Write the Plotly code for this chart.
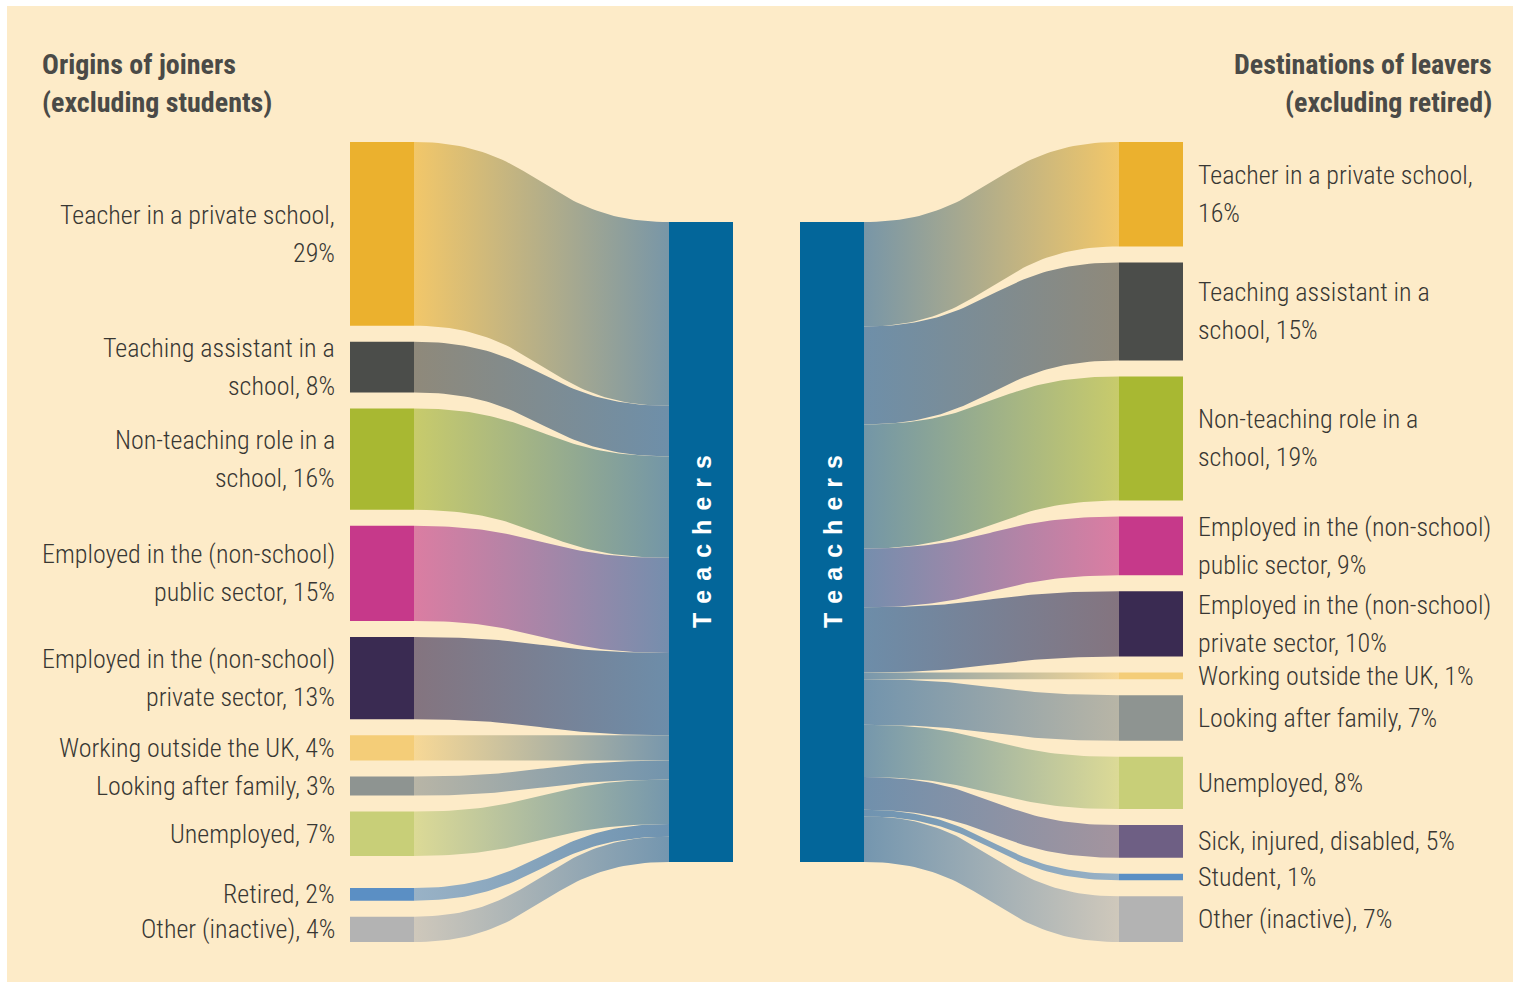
import plotly.graph_objects as go
import numpy as np

# ---------------- data ----------------
left_labels = [
    "Teacher in a private school,<br>29%",
    "Teaching assistant in a<br>school, 8%",
    "Non-teaching role in a<br>school, 16%",
    "Employed in the (non-school)<br>public sector, 15%",
    "Employed in the (non-school)<br>private sector, 13%",
    "Working outside the UK, 4%",
    "Looking after family, 3%",
    "Unemployed, 7%",
    "Retired, 2%",
    "Other (inactive), 4%",
]
left_values = [29, 8, 16, 15, 13, 4, 3, 7, 2, 4]
left_colors = ["#ebb12e", "#4b4d4a", "#a8b832", "#c6398a", "#3a2b52",
               "#f4cd78", "#8e9491", "#c8cf78", "#5b8fc4", "#b3b3b3"]

right_labels = [
    "Teacher in a private school,<br>16%",
    "Teaching assistant in a<br>school, 15%",
    "Non-teaching role in a<br>school, 19%",
    "Employed in the (non-school)<br>public sector, 9%",
    "Employed in the (non-school)<br>private sector, 10%",
    "Working outside the UK, 1%",
    "Looking after family, 7%",
    "Unemployed, 8%",
    "Sick, injured, disabled, 5%",
    "Student, 1%",
    "Other (inactive), 7%",
]
right_values = [16, 15, 19, 9, 10, 1, 7, 8, 5, 1, 7]
right_colors = ["#ebb12e", "#4b4d4a", "#a8b832", "#c6398a", "#3a2b52",
                "#f4cd78", "#8e9491", "#c8cf78", "#6e5f84", "#5b8fc4", "#b3b3b3"]

hub_label = "Teachers"
left_title = "Origins of joiners<br>(excluding students)"
right_title = "Destinations of leavers<br>(excluding retired)"

# ---------------- style / layout constants ----------------
W, H = 1520, 984
CREAM = (253, 235, 200)
HUB_COLOR = "#03669a"
FLOW_HUB = (106, 144, 174)
NODE_TOP = 142
HUB_TOP, HUB_BOTTOM = 222, 862
NODE_W = 64
L_NODE_X, L_HUB_X, R_HUB_X, R_NODE_X = 350, 669, 800, 1119
GAP = 16
LEFT_EXTRA_GAP = {8: 16}
RIGHT_EXTRA_GAP = {}
LABEL_FONT = "Liberation Sans Narrow, Roboto Condensed, DejaVu Sans Condensed, sans-serif"
TEXT_COLOR = "#383733"
LABEL_SIZE = 26
LINE_STEP = 38


def hex2rgb(h):
    h = h.lstrip("#")
    return tuple(int(h[i:i + 2], 16) for i in (0, 2, 4))


def mix(a, b, t):
    return tuple(a[i] * (1 - t) + b[i] * t for i in range(3))


def css(c):
    return "rgb(%d,%d,%d)" % tuple(int(round(v)) for v in c)


def layout_nodes(values, extra):
    scale = (HUB_BOTTOM - HUB_TOP) / sum(values)
    nodes, hub = [], []
    y = NODE_TOP
    hy = HUB_TOP
    for i, v in enumerate(values):
        y += extra.get(i, 0)
        h = v * scale
        nodes.append((y, y + h))
        hub.append((hy, hy + h))
        y += h + GAP
        hy += h
    return nodes, hub


def bezier(x0, y0, x1, y1, n=60):
    t = np.linspace(0, 1, n)
    xm = (x0 + x1) / 2
    xs = (1 - t) ** 3 * x0 + 3 * (1 - t) ** 2 * t * xm + 3 * (1 - t) * t ** 2 * xm + t ** 3 * x1
    ys = (1 - t) ** 3 * y0 + 3 * (1 - t) ** 2 * t * y0 + 3 * (1 - t) * t ** 2 * y1 + t ** 3 * y1
    return xs, ys


def ribbon(x0, a, x1, b, c0, c1):
    xt, yt = bezier(x0, a[0], x1, b[0])
    xb, yb = bezier(x0, a[1], x1, b[1])
    xs = np.concatenate([xt, xb[::-1], [xt[0]]])
    ys = np.concatenate([yt, yb[::-1], [yt[0]]])
    lo, hi = min(x0, x1), max(x0, x1)
    cs = [[0, css(c0)], [1, css(c1)]] if x0 < x1 else [[0, css(c1)], [1, css(c0)]]
    return go.Scatter(x=xs, y=ys, mode="lines", line=dict(width=0), fill="toself",
                      fillgradient=dict(type="horizontal", colorscale=cs, start=lo, stop=hi),
                      hoverinfo="skip", showlegend=False)


def rect(x0, x1, y0, y1, color):
    return go.Scatter(x=[x0, x1, x1, x0, x0], y=[y0, y0, y1, y1, y0], mode="lines",
                      line=dict(width=0), fill="toself", fillcolor=color,
                      hoverinfo="skip", showlegend=False)


def text_lines(text, x, yc, xanchor, font):
    lines = text.split("<br>")
    n = len(lines)
    out = []
    for k, ln in enumerate(lines):
        out.append(dict(x=x, y=yc + (k - (n - 1) / 2) * LINE_STEP, text=ln, xanchor=xanchor,
                        yanchor="middle", align=xanchor, showarrow=False, font=font))
    return out


fig = go.Figure()
annotations = []
label_font = dict(family=LABEL_FONT, size=LABEL_SIZE, color=TEXT_COLOR, weight=300)

# left side
lnodes, lhub = layout_nodes(left_values, LEFT_EXTRA_GAP)
for i, (lab, col) in enumerate(zip(left_labels, left_colors)):
    rgb = hex2rgb(col)
    c0 = mix(rgb, CREAM, 0.38)
    c1 = mix(FLOW_HUB, c0, 0.10)
    fig.add_trace(ribbon(L_NODE_X + NODE_W, lnodes[i], L_HUB_X, lhub[i], c0, c1))
for i, (lab, col) in enumerate(zip(left_labels, left_colors)):
    y0, y1 = lnodes[i]
    fig.add_trace(rect(L_NODE_X, L_NODE_X + NODE_W, y0, y1, col))
    annotations += text_lines(lab, L_NODE_X - 13, (y0 + y1) / 2, "right", label_font)

# right side
rnodes, rhub = layout_nodes(right_values, RIGHT_EXTRA_GAP)
for i, (lab, col) in enumerate(zip(right_labels, right_colors)):
    rgb = hex2rgb(col)
    c0 = mix(rgb, CREAM, 0.38)
    c1 = mix(FLOW_HUB, c0, 0.10)
    fig.add_trace(ribbon(R_NODE_X, rnodes[i], R_HUB_X + NODE_W, rhub[i], c0, c1))
for i, (lab, col) in enumerate(zip(right_labels, right_colors)):
    y0, y1 = rnodes[i]
    fig.add_trace(rect(R_NODE_X, R_NODE_X + NODE_W, y0, y1, col))
    annotations += text_lines(lab, R_NODE_X + NODE_W + 13, (y0 + y1) / 2, "left", label_font)

# hubs
spaced = " \u200a".join(hub_label)
for hx in (L_HUB_X, R_HUB_X):
    fig.add_trace(rect(hx, hx + NODE_W, HUB_TOP, HUB_BOTTOM, HUB_COLOR))
    annotations.append(dict(x=hx + NODE_W / 2 + 1, y=(HUB_TOP + HUB_BOTTOM) / 2, text=spaced,
                            textangle=-90, showarrow=False, xanchor="center", yanchor="middle",
                            font=dict(family="Liberation Sans, Arial, sans-serif", size=25,
                                      color="white", weight="bold")))

# titles
title_font = dict(family=LABEL_FONT, size=28, color="#4a4a47", weight="bold")
annotations += text_lines(left_title, 40, 83, "left", title_font)
annotations += text_lines(right_title, 1494, 83, "right", title_font)

fig.update_layout(
    width=W, height=H, margin=dict(l=0, r=0, t=0, b=0),
    paper_bgcolor="white", plot_bgcolor="rgba(0,0,0,0)",
    xaxis=dict(range=[0, W], visible=False, fixedrange=True),
    yaxis=dict(range=[H, 0], visible=False, fixedrange=True),
    shapes=[dict(type="rect", xref="x", yref="y", x0=7, x1=W - 7, y0=6, y1=H - 2,
                 fillcolor=css(CREAM), line=dict(width=0), layer="below")],
    annotations=annotations,
    showlegend=False,
)

fig.write_html("out.html")
